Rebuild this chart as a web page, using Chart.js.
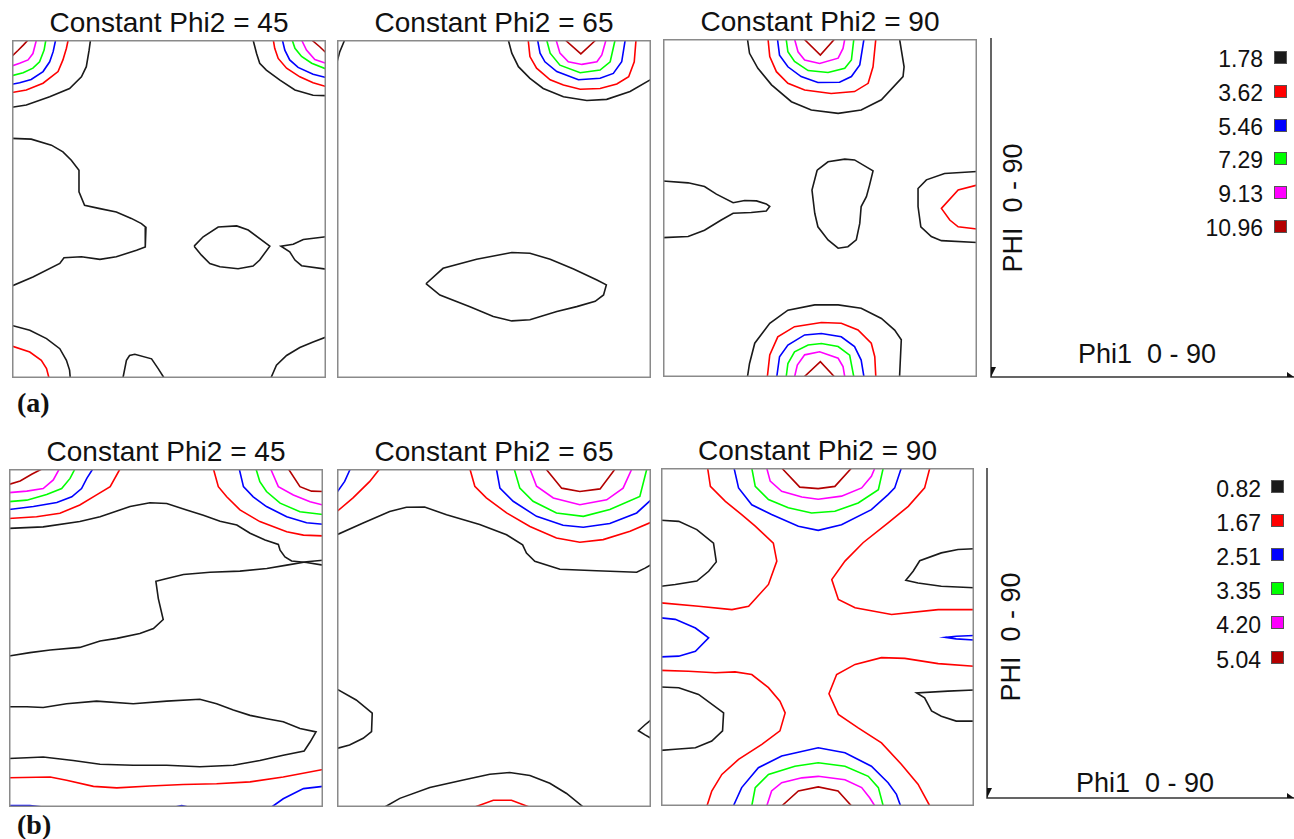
<!DOCTYPE html>
<html>
<head>
<meta charset="utf-8">
<title>ODF sections</title>
<script src="https://cdn.jsdelivr.net/npm/chart.js@4.4.1/dist/chart.umd.min.js"></script>
<style>
  html, body { margin: 0; padding: 0; background: #fff; }
  body { width: 1294px; height: 839px; position: relative; overflow: hidden;
         font-family: "Liberation Sans", Arial, sans-serif; color: #111; }
  .panel { position: absolute; }
  .title { position: absolute; font-size: 28px; line-height: 28px; white-space: nowrap; transform: translateX(-50%); }
  .tag { position: absolute; font-family: "Liberation Serif", "Times New Roman", serif; font-weight: bold; font-size: 28px; line-height: 28px; }
  .lvl { position: absolute; font-size: 23px; line-height: 23px; text-align: right; width: 80px; }
  .sw { position: absolute; width: 11px; height: 11px; border: 1px solid #555; }
  .axlab { position: absolute; font-size: 27px; line-height: 27px; white-space: pre; }
  svg { position: absolute; left: 0; top: 0; }
</style>
</head>
<body>
<script>
// Contour levels (intensity, times random) for the two textures
const levelsA = ['1.78', '3.62', '5.46', '7.29', '9.13', '10.96'];
const levelsB = ['0.82', '1.67', '2.51', '3.35', '4.20', '5.04'];
const levelColors = ['#1a1a1a', '#ff0000', '#0000ff', '#00ff00', '#ff00ff', '#b30000'];
const sectionTitles = ['Constant Phi2 = 45', 'Constant Phi2 = 65', 'Constant Phi2 = 90'];

// Each contour: [level index, [[Phi1, PHI], ...]] with Phi1 and PHI in degrees (0-90)
const a45 = [
  [5, [[0,4.3],[1.7,2.8],[3.3,1.3],[4.6,0]]],
  [4, [[0,6.9],[2.2,6.2],[4.6,5.3],[6.0,3.6],[7.0,0]]],
  [3, [[0,9.5],[3.2,8.7],[6.0,7.5],[7.9,5.8],[9.2,2.7],[9.7,0]]],
  [2, [[0,11.8],[2.2,11.4],[5.5,10.5],[8.9,8.4],[10.8,5.8],[11.8,3.1],[12.5,0]]],
  [1, [[0,14.0],[4.1,13.3],[8.9,11.5],[13.2,8.4],[14.6,5.3],[15.6,2.2],[16.1,0]]],
  [0, [[0,17.9],[4.1,17.3],[10.8,15.1],[16.5,12.9],[19.9,9.8],[21.3,7.1],[22.1,2.7],[22.5,0]]],
  [0, [[69.1,0],[70.1,3.6],[71.0,6.2],[72.9,8.0],[76.8,10.7],[81.1,13.3],[86.3,14.7],[90,14.8]]],
  [1, [[74.9,0],[75.3,2.2],[76.3,4.9],[78.7,7.5],[82.5,9.8],[86.3,11.4],[90,12.4]]],
  [2, [[77.5,0],[78.2,2.7],[79.6,5.3],[82.0,7.3],[86.3,9.1],[90,10.0]]],
  [3, [[80.3,0],[81.1,2.2],[83.0,4.4],[85.9,6.2],[90,7.7]]],
  [4, [[83.0,0],[84.4,2.7],[86.8,5.2],[90,6.2]]],
  [5, [[85.9,0],[88.2,1.8],[90,3.4]]],
  [0, [[0,26.2],[5.5,26.4],[11.3,28.0],[14.6,29.8],[17.0,32.0],[19.2,34.7],[19.2,40.4],[20.8,44.0],[25.2,44.9],[29.9,45.8],[34.2,47.5],[37.1,48.9],[38.4,49.9],[38.2,55.1],[35.7,56.0],[29.9,57.7],[25.2,58.4],[19.9,57.7],[14.9,58.0],[13.7,59.5],[6.0,63.1],[0,65.5]]],
  [0, [[52.2,54.9],[54.8,52.4],[59.1,49.8],[64.4,49.5],[67.7,50.6],[73.9,54.9],[71.0,58.6],[69.1,60.2],[64.8,60.9],[59.6,60.4],[56.7,59.5],[54.3,57.3],[52.2,54.9]]],
  [0, [[90,52.4],[83.5,53.1],[80.6,54.4],[77.1,54.9],[79.6,56.4],[81.1,58.6],[83.0,60.1],[90,61.0]]],
  [0, [[0,76.0],[5.1,77.3],[9.9,79.5],[13.7,82.2],[15.6,85.3],[16.5,87.9],[16.7,90]]],
  [1, [[0,81.5],[5.1,83.1],[8.4,85.3],[9.9,87.5],[10.6,90]]],
  [0, [[31.8,90],[32.8,85.3],[33.7,84.0],[35.2,83.7],[40.0,84.9],[41.9,87.5],[43.6,90]]],
  [0, [[74.2,90],[75.8,86.6],[78.7,84.0],[82.5,81.9],[86.3,80.4],[90,79.1]]]
];

const a65 = [
  [0, [[0,5.9],[0.8,3.1],[2.2,0]]],
  [0, [[49.1,0],[50.1,3.5],[52.0,7.1],[55.3,10.2],[59.1,12.9],[64.9,15.1],[71.6,16.1],[77.3,15.8],[84.0,13.7],[90,10.5]]],
  [1, [[54.8,0],[55.3,4.4],[57.2,7.5],[61.1,10.6],[64.9,12.0],[69.7,13.1],[75.4,12.9],[80.2,11.7],[83.6,9.8],[85.2,5.8],[85.7,0]]],
  [2, [[57.5,0],[58.2,3.5],[59.6,5.8],[63.0,8.4],[69.2,10.6],[75.4,10.2],[79.2,8.9],[81.6,5.8],[82.6,0]]],
  [3, [[60.1,0],[61.1,3.5],[63.9,6.7],[69.7,8.7],[75.4,8.0],[78.3,5.8],[79.7,0]]],
  [4, [[62.8,0],[63.9,3.5],[66.3,5.8],[70.2,6.5],[74.5,5.8],[75.9,4.0],[77.1,0]]],
  [5, [[65.4,0],[69.9,3.7],[74.2,0]]],
  [0, [[25.5,64.9],[30.4,60.8],[40.0,58.4],[50.1,56.6],[55.3,56.8],[61.1,58.4],[67.8,61.0],[74.5,63.9],[77.2,65.2],[76.4,67.9],[74.0,69.6],[68.7,71.0],[63.0,72.3],[55.3,74.5],[50.1,74.8],[44.8,73.6],[38.1,71.0],[29.5,67.9],[25.5,64.9]]]
];

const a90 = [
  [0, [[24.2,0],[24.8,3.8],[27.2,7.8],[31.1,12.2],[36.8,16.7],[42.5,18.9],[50.2,19.8],[56.8,18.9],[62.6,16.2],[68.8,10.0],[69.1,7.4],[67.8,0]]],
  [1, [[30.1,0],[30.6,4.7],[32.5,8.7],[35.8,11.8],[40.6,13.6],[48.2,14.5],[54.9,14.0],[58.8,11.8],[60.2,7.4],[61.0,0]]],
  [2, [[32.8,0],[33.4,4.3],[35.8,7.4],[39.6,10.0],[44.4,11.6],[50.6,11.5],[54.0,10.0],[56.4,6.9],[57.6,0]]],
  [3, [[35.3,0],[35.8,3.4],[37.7,6.0],[41.6,8.4],[47.3,8.9],[52.1,7.8],[54.0,5.6],[54.7,0]]],
  [4, [[37.7,0],[38.7,3.4],[40.6,5.6],[44.9,6.5],[50.2,5.1],[51.6,2.5],[52.1,0]]],
  [5, [[40.4,0],[45.1,4.3],[49.2,0]]],
  [0, [[24.2,90],[24.8,86.4],[26.3,81.0],[30.6,75.7],[35.8,72.2],[43.5,70.8],[50.2,70.8],[56.8,71.7],[62.6,74.4],[66.4,77.5],[68.3,80.1],[67.8,90]]],
  [1, [[29.9,90],[30.6,84.1],[32.9,79.3],[37.7,76.6],[45.4,75.5],[51.1,75.7],[55.9,77.5],[59.7,81.0],[60.7,84.6],[61.0,90]]],
  [2, [[32.6,90],[33.4,84.6],[35.8,81.5],[40.6,78.8],[45.4,78.4],[51.1,79.3],[54.9,81.9],[56.8,85.5],[57.6,90]]],
  [3, [[35.3,90],[35.8,86.4],[37.7,83.3],[41.6,81.5],[45.4,81.1],[50.2,81.9],[53.5,84.2],[54.7,90]]],
  [4, [[37.7,90],[38.5,86.8],[40.6,84.1],[44.9,83.3],[50.2,85.0],[51.6,87.2],[52.1,90]]],
  [5, [[40.4,90],[45.1,85.9],[49.2,90]]],
  [0, [[0,37.8],[7.2,38.3],[11.9,39.3],[15.3,41.3],[20.1,43.6],[23.4,43.0],[26.8,43.1],[29.6,43.9],[30.6,44.6],[29.6,45.8],[25.3,46.2],[20.1,46.4],[16.7,48.2],[11.9,50.9],[7.2,52.6],[0,52.9]]],
  [0, [[44.2,34.9],[47.3,32.7],[52.1,32.0],[54.9,32.2],[60.2,35.1],[59.2,38.9],[58.3,42.0],[56.8,44.6],[56.4,49.1],[55.4,53.5],[53.0,55.3],[50.2,55.7],[47.3,53.5],[44.4,50.0],[43.5,46.4],[42.7,40.2],[44.2,34.9]]],
  [0, [[90,35.3],[80.7,35.8],[75.5,37.5],[73.1,39.8],[73.1,44.6],[73.9,50.0],[76.9,52.6],[79.8,53.7],[90,54.2]]],
  [1, [[90,38.9],[84.6,40.2],[79.8,45.1],[82.2,48.2],[84.6,50.0],[90,50.6]]]
];

const b45 = [
  [5, [[0,4.1],[3.2,3.2],[6.5,1.4],[9.4,0]]],
  [4, [[0,6.3],[5.1,5.9],[9.8,5.2],[12.7,2.9],[14.4,0]]],
  [3, [[0,8.7],[5.1,8.3],[10.8,6.8],[15.1,5.2],[17.5,2.5],[18.9,0]]],
  [2, [[0,10.8],[7.0,10.0],[13.7,8.9],[18.0,7.4],[20.8,5.2],[22.3,2.5],[24.0,0]]],
  [1, [[0,13.2],[7.9,12.7],[14.6,11.8],[20.3,9.6],[25.1,6.9],[29.0,4.7],[31.8,0]]],
  [0, [[0,15.8],[9.8,15.4],[20.3,14.0],[26.1,12.7],[34.7,10.0],[40.4,9.0],[45.2,9.2],[50.9,10.9],[55.7,12.3],[60.5,13.9],[65.3,14.9],[69.1,17.1],[73.4,18.9],[77.2,20.1],[77.7,21.6],[79.1,23.4],[81.0,24.5],[85.3,24.9],[90,25.6]]],
  [0, [[90,24.3],[85.3,24.7],[79.6,25.6],[73.9,26.5],[66.2,27.2],[57.6,27.5],[50.0,28.1],[44.7,29.3],[42.1,29.9],[42.8,34.5],[44.2,40.1],[41.4,42.5],[37.5,43.8],[30.9,45.1],[26.1,45.8],[20.3,47.5],[11.8,48.2],[6.0,48.9],[0,49.8]]],
  [0, [[0,63.3],[5.1,63.3],[9.8,63.5],[16.5,62.5],[25.1,61.8],[35.6,62.5],[45.2,61.8],[54.7,61.3],[59.5,62.5],[64.3,64.2],[69.1,65.6],[73.9,66.5],[78.6,67.3],[83.4,69.1],[88.0,70.0],[86.3,72.7],[84.6,75.1],[78.6,76.2],[71.9,77.6],[64.3,78.9],[54.7,79.3],[45.2,78.9],[35.6,78.9],[26.1,78.6],[18.4,77.6],[9.8,76.7],[5.1,76.9],[0,77.1]]],
  [1, [[0,82.2],[11.8,82.0],[16.5,82.9],[24.2,84.5],[30.9,84.9],[40.4,84.4],[49.9,84.0],[59.5,83.8],[69.1,83.3],[78.6,82.0],[90,80.0]]],
  [2, [[0,89.6],[6.0,89.6],[9.8,90]]],
  [2, [[47.6,90],[49.5,89.6],[51.4,90]]],
  [2, [[75.3,90],[78.6,87.8],[84.4,85.1],[90,84.5]]],
  [1, [[58.6,0],[60.0,4.7],[62.4,7.4],[66.2,10.9],[71.9,14.0],[79.6,16.7],[84.4,17.6],[90,17.8]]],
  [2, [[66.0,0],[67.2,4.7],[70.0,7.4],[73.8,10.0],[79.6,12.7],[85.3,14.3],[90,14.7]]],
  [3, [[70.8,0],[71.9,3.4],[73.8,6.0],[77.7,9.1],[83.4,11.4],[90,12.1]]],
  [4, [[75.0,0],[77.2,4.7],[81.5,6.9],[86.3,8.7],[90,9.6]]],
  [5, [[80.1,0],[83.4,4.7],[86.7,5.9],[90,6.0]]]
];

const b65 = [
  [2, [[0,6.2],[2.2,3.3],[3.8,0]]],
  [1, [[0,11.3],[4.6,7.7],[9.4,3.3],[12.2,0]]],
  [0, [[0,17.5],[7.5,14.4],[15.1,11.3],[19.9,10.2],[25.1,10.1],[31.4,12.2],[40.9,14.8],[48.6,17.5],[53.2,20.2],[54.3,22.4],[56.7,24.6],[63.9,26.7],[74.4,27.1],[85.9,27.5],[88.3,26.4],[90,25.5]]],
  [1, [[38.1,0],[39.5,4.6],[42.8,7.7],[48.6,11.7],[55.3,15.3],[62.9,18.4],[69.6,19.5],[76.3,18.8],[84.0,16.6],[90,14.2]]],
  [2, [[45.7,0],[46.7,5.1],[50.5,8.6],[57.2,12.6],[64.8,15.0],[70.6,15.5],[78.2,14.5],[85.9,11.7],[90,8.2]]],
  [3, [[50.8,0],[52.4,5.1],[56.2,8.6],[62.9,11.7],[70.6,12.6],[78.2,10.8],[86.8,7.3],[88.8,0]]],
  [4, [[55.3,0],[57.2,4.6],[62.0,7.7],[69.6,9.5],[77.3,8.2],[82.0,5.1],[84.5,0]]],
  [5, [[59.9,0],[64.4,5.1],[69.6,6.0],[75.4,5.3],[79.7,0]]],
  [0, [[0,58.6],[5.5,61.5],[10.1,65.0],[9.9,69.9],[7.5,71.7],[3.6,73.5],[0,74.4]]],
  [0, [[90,66.8],[88.3,68.1],[86.4,69.7],[88.3,70.8],[90,71.7]]],
  [0, [[13.7,90],[18.0,87.7],[26.6,84.8],[36.2,82.8],[43.8,81.3],[49.5,80.8],[55.3,81.6],[61.0,83.7],[65.8,86.4],[70.6,90]]],
  [1, [[39.5,90],[44.8,88.2],[50.0,88.2],[55.1,90]]]
];

const b90 = [
  [5, [[34.7,0],[39.9,5.1],[45.2,5.5],[50.0,4.9],[54.8,0]]],
  [4, [[30.4,0],[31.4,3.5],[34.7,6.2],[40.5,7.7],[45.2,8.3],[51.9,7.5],[57.7,5.3],[60.5,2.2],[61.5,0]]],
  [3, [[26.1,0],[27.1,4.9],[30.9,8.4],[36.6,10.6],[43.3,12.0],[50.0,11.5],[56.7,9.3],[62.5,5.8],[63.9,0]]],
  [2, [[21.0,0],[22.3,5.3],[26.1,9.8],[31.8,12.4],[39.5,15.5],[45.2,16.6],[51.9,15.1],[60.5,11.1],[65.3,7.1],[67.2,5.3],[69.1,0]]],
  [1, [[13.4,0],[14.2,4.9],[18.5,8.9],[23.2,12.4],[27.1,15.5],[32.3,20.0],[33.3,24.8],[30.9,31.0],[25.2,36.8],[20.4,37.7],[10.8,36.8],[0,35.9]]],
  [1, [[77.3,0],[75.8,5.3],[71.1,10.2],[65.3,14.6],[58.1,19.9],[52.9,24.8],[49.1,29.7],[51.0,35.0],[55.8,37.2],[66.3,39.0],[79.7,37.7],[90,37.7]]],
  [1, [[0,53.9],[7.9,54.1],[15.6,54.5],[21.3,54.3],[26.1,55.0],[30.9,58.5],[34.2,62.1],[35.7,65.2],[34.2,70.0],[29.0,73.6],[22.3,77.6],[17.5,81.6],[14.6,86.0],[13.2,90]]],
  [1, [[90,52.8],[79.7,52.1],[70.1,50.7],[63.4,50.5],[55.8,52.3],[50.5,55.0],[48.3,60.1],[51.0,65.6],[56.7,69.2],[63.4,73.2],[69.1,78.9],[73.9,84.2],[77.3,90]]],
  [2, [[0,39.9],[4.1,40.3],[9.9,42.6],[13.7,45.2],[9.9,48.8],[5.1,50.1],[0,50.3]]],
  [2, [[90,44.6],[84.9,44.8],[81.8,45.1],[84.9,45.5],[90,45.8]]],
  [0, [[0,13.9],[5.1,14.2],[10.3,16.4],[15.1,20.0],[15.9,25.0],[13.7,27.5],[10.3,30.1],[4.1,31.0],[0,31.5]]],
  [0, [[0,58.3],[5.1,58.5],[10.8,60.3],[18.0,65.2],[17.7,70.0],[14.6,72.7],[9.9,74.5],[4.1,74.9],[0,75.2]]],
  [0, [[90,21.5],[85.4,21.7],[80.6,22.6],[74.4,24.7],[72.5,27.5],[70.4,29.9],[73.9,30.6],[80.6,31.5],[90,31.9]]],
  [0, [[90,59.1],[82.5,59.4],[73.5,59.9],[75.8,61.2],[77.8,64.7],[80.6,66.1],[84.9,67.4],[90,67.4]]],
  [2, [[20.8,90],[23.2,85.1],[28.0,79.8],[34.7,76.7],[45.2,74.5],[52.9,75.8],[60.5,79.4],[65.3,83.8],[67.7,86.9],[68.9,90]]],
  [3, [[26.1,90],[27.1,85.1],[30.9,81.6],[38.5,79.4],[45.2,78.5],[52.9,79.4],[59.6,82.1],[62.5,85.1],[63.9,90]]],
  [4, [[30.4,90],[31.8,86.0],[34.7,83.8],[40.5,82.5],[45.2,82.1],[52.9,83.0],[57.7,85.1],[60.0,87.8],[61.5,90]]],
  [5, [[34.7,90],[39.5,86.0],[45.2,84.9],[50.9,86.0],[54.8,90]]]
];

// Page layout of the six sections and the two key panels
const sections = [
  { contours: a45, title: 0, left: 12,  top: 40,  w: 314, h: 338 },
  { contours: a65, title: 1, left: 337, top: 40,  w: 314, h: 338 },
  { contours: a90, title: 2, left: 663, top: 39,  w: 314, h: 338 },
  { contours: b45, title: 0, left: 9,   top: 469, w: 314, h: 338 },
  { contours: b65, title: 1, left: 337, top: 469, w: 314, h: 338 },
  { contours: b90, title: 2, left: 661, top: 468, w: 313, h: 338 }
];

function el(tag, cls, css, text) {
  const e = document.createElement(tag);
  if (cls) e.className = cls;
  Object.assign(e.style, css || {});
  if (text !== undefined) e.textContent = text;
  document.body.appendChild(e);
  return e;
}

// Grey frame around each section
const framePlugin = {
  id: 'frame',
  afterDraw(chart) {
    const a = chart.chartArea, ctx = chart.ctx;
    ctx.save();
    ctx.strokeStyle = '#8a8a8a';
    ctx.lineWidth = 1.5;
    ctx.strokeRect(a.left + 0.75, a.top + 0.75, a.right - a.left - 1.5, a.bottom - a.top - 1.5);
    ctx.restore();
  }
};

sections.forEach(s => {
  const box = el('div', 'panel', { left: s.left + 'px', top: s.top + 'px', width: s.w + 'px', height: s.h + 'px' });
  const cv = document.createElement('canvas');
  box.appendChild(cv);
  el('div', 'title', { left: (s.left + s.w / 2) + 'px', top: (s.top - 31) + 'px' }, sectionTitles[s.title]);
  new Chart(cv, {
    type: 'scatter',
    data: {
      datasets: s.contours.map(([lv, pts]) => ({
        data: pts.map(([x, y]) => ({ x, y })),
        showLine: true,
        borderColor: levelColors[lv],
        backgroundColor: levelColors[lv],
        borderWidth: 1.6,
        pointRadius: 0,
        tension: 0,
        fill: false
      }))
    },
    options: {
      responsive: true,
      maintainAspectRatio: false,
      animation: false,
      events: [],
      layout: { padding: 0 },
      plugins: { legend: { display: false }, tooltip: { enabled: false } },
      scales: {
        x: { type: 'linear', min: 0, max: 90, display: false },
        y: { type: 'linear', min: 0, max: 90, reverse: true, display: false }
      }
    },
    plugins: [framePlugin]
  });
});

// Panel tags
el('div', 'tag', { left: '17px', top: '389px' }, '(a)');
el('div', 'tag', { left: '17px', top: '811px' }, '(b)');

// Contour level keys
function levelKey(levels, textRight, firstTop, step, swLeft, swOffset) {
  levels.forEach((v, i) => {
    const t = firstTop + i * step;
    el('div', 'lvl', { left: (textRight - 80) + 'px', top: t + 'px' }, v);
    el('div', 'sw', { left: swLeft + 'px', top: (t + swOffset) + 'px', background: levelColors[i] });
  });
}
levelKey(levelsA, 1263, 48, 33.8, 1274, 3);
levelKey(levelsB, 1261, 478, 34.1, 1271, 2);

// Euler-angle axis labels
el('div', 'axlab', { left: '1013px', top: '208px', transform: 'translate(-50%,-50%) rotate(-90deg)' }, 'PHI  0 - 90');
el('div', 'axlab', { left: '1011px', top: '637px', transform: 'translate(-50%,-50%) rotate(-90deg)' }, 'PHI  0 - 90');
el('div', 'axlab', { left: '1147px', top: '341px', transform: 'translateX(-50%)' }, 'Phi1  0 - 90');
el('div', 'axlab', { left: '1145px', top: '770px', transform: 'translateX(-50%)' }, 'Phi1  0 - 90');

// Axis direction indicators
const svgNS = 'http://www.w3.org/2000/svg';
const svg = document.createElementNS(svgNS, 'svg');
svg.setAttribute('width', '1294');
svg.setAttribute('height', '839');
document.body.appendChild(svg);
function svgEl(name, attrs) {
  const e = document.createElementNS(svgNS, name);
  for (const k in attrs) e.setAttribute(k, attrs[k]);
  svg.appendChild(e);
}
[[991, 38, 377], [987, 468, 798]].forEach(([x, y0, y1]) => {
  svgEl('polyline', { points: `${x},${y0} ${x},${y1} 1294,${y1}`, fill: 'none', stroke: '#333', 'stroke-width': 1.5 });
  svgEl('polygon', { points: `${x},${y1} ${x},${y1 - 10} ${x + 5},${y1 - 10}`, fill: '#111' });
  svgEl('polygon', { points: `1294,${y1} 1287,${y1 - 5} 1287,${y1}`, fill: '#111' });
});
</script>
</body>
</html>
